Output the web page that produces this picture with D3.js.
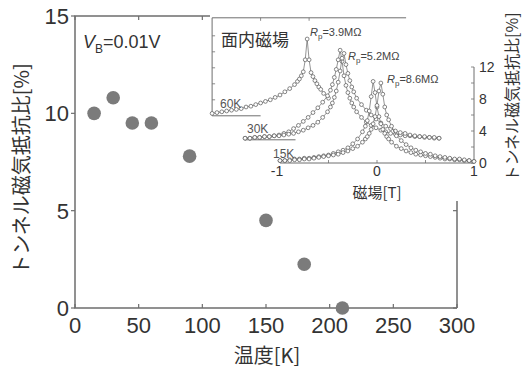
<!DOCTYPE html>
<html>
<head>
<meta charset="utf-8">
<script src="https://cdn.jsdelivr.net/npm/d3@7"></script>
<style>
  body { margin: 0; background: #fff; }
  svg { display: block; }
  text { fill: #333; }
</style>
</head>
<body>
<div id="chart"></div>
<script>
// main plot: TMR ratio vs temperature
const temps = [15, 30, 45, 60, 90, 150, 180, 210];
const tmr = [10.0, 10.8, 9.5, 9.5, 7.8, 4.5, 2.25, 0.0];
const xTicks = [0, 50, 100, 150, 200, 250, 300];
const yTicks = [0, 5, 10, 15];

// inset: TMR vs in-plane field, two sweep branches per temperature
const field = [-1, -0.95, -0.9, -0.85, -0.8, -0.75, -0.7, -0.65, -0.6, -0.55, -0.5, -0.45, -0.4, -0.35, -0.3, -0.25, -0.2, -0.15,
  -0.12, -0.1, -0.08, -0.06, -0.04, -0.02, 0, 0.02, 0.04, 0.06, 0.08, 0.1, 0.12,
  0.15, 0.2, 0.25, 0.3, 0.35, 0.4, 0.45, 0.5, 0.55, 0.6, 0.65, 0.7, 0.75, 0.8, 0.85, 0.9, 0.95, 1];

const mr15Kdown = [0.3, 0.3, 0.4, 0.5, 0.5, 0.6, 0.6, 0.7, 0.8, 0.9, 1.0, 1.2, 1.4, 1.6, 1.9, 2.4, 3.0, 3.9,
  4.6, 5.3, 6.5, 8.3, 10.2, 8.8, 7.0, 5.8, 4.9, 4.2, 3.7, 3.3, 3.0,
  2.6, 2.1, 1.8, 1.5, 1.3, 1.1, 1.0, 0.9, 0.8, 0.7, 0.6, 0.5, 0.5, 0.4, 0.4, 0.3, 0.3, 0.2];
const mr15Kup = [0.3, 0.3, 0.3, 0.4, 0.4, 0.5, 0.5, 0.6, 0.7, 0.8, 0.9, 1.0, 1.1, 1.3, 1.5, 1.8, 2.1, 2.6,
  3.0, 3.3, 3.7, 4.2, 4.9, 5.8, 7.2, 9.0, 10.0, 8.6, 7.0, 6.0, 5.4,
  4.6, 3.4, 2.8, 2.3, 1.9, 1.6, 1.4, 1.2, 1.1, 0.9, 0.8, 0.7, 0.6, 0.5, 0.5, 0.4, 0.3, 0.2];

const mr30Kdown = [0.2, 0.2, 0.3, 0.3, 0.4, 0.4, 0.5, 0.6, 0.8, 1.0, 1.4, 1.8, 2.3, 2.8, 3.4, 4.0, 4.7, 5.5,
  6.2, 6.9, 7.8, 8.8, 10.0, 11.2, 9.8, 8.0, 6.8, 5.9, 5.2, 4.6, 4.1,
  3.5, 2.8, 2.2, 1.8, 1.5, 1.2, 1.0, 0.8, 0.7, 0.6, 0.5, 0.5, 0.4, 0.4, 0.3, 0.3, 0.2, 0.2];
const mr30Kup = [0.2, 0.2, 0.3, 0.3, 0.4, 0.4, 0.5, 0.5, 0.6, 0.7, 0.8, 1.0, 1.2, 1.5, 1.8, 2.2, 2.8, 3.5,
  4.1, 4.6, 5.3, 6.1, 7.2, 8.6, 10.2, 10.8, 9.4, 8.3, 7.4, 6.6, 6.0,
  5.2, 4.4, 3.7, 3.1, 2.6, 2.1, 1.7, 1.4, 1.1, 0.9, 0.8, 0.6, 0.5, 0.4, 0.4, 0.3, 0.3, 0.2];

// 60K only drawn up to +0.2 T
const mr60K = [0.3, 0.4, 0.5, 0.6, 0.7, 0.8, 0.9, 1.1, 1.2, 1.4, 1.6, 1.8, 2.0, 2.3, 2.6, 3.0, 3.4, 3.9,
  4.3, 4.6, 5.0, 5.5, 7.0, 9.6, 7.0, 5.4, 4.9, 4.4, 4.0, 3.6, 3.3,
  2.8, 2.2];

const curves = [
  { label: "60K", rp: "=3.9MΩ", branches: [mr60K], dx: -0.7, dy: 5.9 },
  { label: "30K", rp: "=5.2MΩ", branches: [mr30Kdown, mr30Kup], dx: -0.36, dy: 2.9 },
  { label: "15K", rp: "=8.6MΩ", branches: [mr15Kdown, mr15Kup], dx: 0, dy: 0 }
];

const W = 531, H = 370;
const jp = "'Noto Sans CJK JP', sans-serif";
const num = "'Liberation Sans', Arial, sans-serif";
const axisColor = "#6e6e6e";

const svg = d3.select("#chart").append("svg").attr("width", W).attr("height", H);

// ---- main plot
const x = d3.scaleLinear().domain([0, 300]).range([75, 457]);
const y = d3.scaleLinear().domain([0, 15]).range([308, 16]);

const main = svg.append("g");
// frame
main.append("path")
  .attr("d", `M${x(300)},${y(0)}H${x(0)}V${y(15)}H${x(300)}V${y(0)}`)
  .attr("fill", "none").attr("stroke", axisColor).attr("stroke-width", 1.5);

xTicks.forEach(t => {
  main.append("line").attr("x1", x(t)).attr("x2", x(t)).attr("y1", y(0)).attr("y2", y(0) - 4)
    .attr("stroke", axisColor).attr("stroke-width", 1.2);
  main.append("line").attr("x1", x(t)).attr("x2", x(t)).attr("y1", y(15)).attr("y2", y(15) + 4)
    .attr("stroke", axisColor).attr("stroke-width", 1.2);
  main.append("text").attr("x", x(t)).attr("y", 333).attr("text-anchor", "middle")
    .style("font-family", num).style("font-size", "22px").text(t);
});
yTicks.forEach(t => {
  main.append("line").attr("x1", x(0) - 4).attr("x2", x(0)).attr("y1", y(t)).attr("y2", y(t))
    .attr("stroke", axisColor).attr("stroke-width", 1.2);
  main.append("line").attr("x1", x(300) - 4).attr("x2", x(300)).attr("y1", y(t)).attr("y2", y(t))
    .attr("stroke", axisColor).attr("stroke-width", 1.2);
  main.append("text").attr("x", 69).attr("y", y(t) + 8).attr("text-anchor", "end")
    .style("font-family", num).style("font-size", "22px").text(t);
});

main.selectAll("circle.pt").data(temps).join("circle")
  .attr("class", "pt")
  .attr("cx", d => x(d))
  .attr("cy", (d, i) => y(tmr[i]))
  .attr("r", 6.8)
  .attr("fill", "#7b7b7b");

main.append("text").attr("x", 267).attr("y", 363).attr("text-anchor", "middle")
  .style("font-family", jp).style("font-size", "20px").text("温度[K]");
main.append("text").attr("transform", "translate(29,169) rotate(-90)").attr("text-anchor", "middle")
  .style("font-family", jp).style("font-size", "20px").text("トンネル磁気抵抗比[%]");

const vb = main.append("text").attr("x", 83).attr("y", 48)
  .style("font-family", num).style("font-size", "18px");
vb.append("tspan").style("font-style", "italic").text("V");
vb.append("tspan").attr("dy", 5).style("font-size", "12px").text("B");
vb.append("tspan").attr("dy", -5).text("=0.01V");

// ---- inset
const inset = svg.append("g");
inset.append("rect").attr("x", 210).attr("y", 0).attr("width", W - 210).attr("height", 201).attr("fill", "#fff");

const xi = d3.scaleLinear().domain([-1, 1]).range([280, 474]);
const yi = d3.scaleLinear().domain([0, 12]).range([163, 67]);

// 60K frame (offset)
const c60 = curves[0];
inset.append("path")
  .attr("d", `M${xi(-0.5 + c60.dx)},${yi(c60.dy)}H${xi(-1 + c60.dx)}V${yi(12.25 + c60.dy)}H${xi(1 + c60.dx)}`)
  .attr("fill", "none").attr("stroke", axisColor).attr("stroke-width", 1);
[2, 4, 6, 8, 10].forEach(t => {
  inset.append("line").attr("x1", xi(-1 + c60.dx)).attr("x2", xi(-1 + c60.dx) + 3)
    .attr("y1", yi(t + c60.dy)).attr("y2", yi(t + c60.dy)).attr("stroke", axisColor).attr("stroke-width", 0.8);
});
[-0.5, 0].forEach(t => {
  inset.append("line").attr("x1", xi(t + c60.dx)).attr("x2", xi(t + c60.dx))
    .attr("y1", yi(12.25 + c60.dy)).attr("y2", yi(12.25 + c60.dy) + 3).attr("stroke", axisColor).attr("stroke-width", 0.8);
});
// 30K baseline (offset)
const c30 = curves[1];
inset.append("line").attr("x1", xi(-1 + c30.dx)).attr("x2", xi(-0.48 + c30.dx))
  .attr("y1", yi(c30.dy)).attr("y2", yi(c30.dy)).attr("stroke", axisColor).attr("stroke-width", 1);

// 15K axes
inset.append("path")
  .attr("d", `M${xi(-1)},${yi(0)}H${xi(1)}V${yi(12)}`)
  .attr("fill", "none").attr("stroke", axisColor).attr("stroke-width", 1);
[-1, -0.5, 0, 0.5, 1].forEach(t => {
  inset.append("line").attr("x1", xi(t)).attr("x2", xi(t)).attr("y1", yi(0)).attr("y2", yi(0) - 3)
    .attr("stroke", axisColor).attr("stroke-width", 0.8);
});
[-1, 0, 1].forEach(t => {
  inset.append("text").attr("x", xi(t) - (t < 0 ? 3 : 0)).attr("y", 176).attr("text-anchor", "middle")
    .style("font-family", num).style("font-size", "14px").text(t);
});
[0, 2, 4, 6, 8, 10, 12].forEach(t => {
  inset.append("line").attr("x1", xi(1) - 3).attr("x2", xi(1)).attr("y1", yi(t)).attr("y2", yi(t))
    .attr("stroke", axisColor).attr("stroke-width", 0.8);
  if (t % 4 === 0) {
    inset.append("text").attr("x", 479).attr("y", yi(t) + 5)
      .style("font-family", num).style("font-size", "14px").text(t);
  }
});
inset.append("text").attr("x", 377).attr("y", 198).attr("text-anchor", "middle")
  .style("font-family", jp).style("font-size", "15px").text("磁場[T]");
inset.append("text").attr("transform", "translate(518,97) rotate(-90)").attr("text-anchor", "middle")
  .style("font-family", jp).style("font-size", "16px").text("トンネル磁気抵抗比[%]");
inset.append("text").attr("x", 221).attr("y", 46)
  .style("font-family", jp).style("font-size", "17px").text("面内磁場");

// curves
const rpPos = [[310, 36], [348, 60], [387, 83]];
const tPos = [[220, 108], [247, 133], [273, 158]];
curves.forEach((c, ci) => {
  const g = inset.append("g");
  c.branches.forEach(b => {
    const pts = b.map((v, i) => [xi(field[i] + c.dx), yi(v + c.dy)]);
    g.append("path").attr("d", d3.line()(pts))
      .attr("fill", "none").attr("stroke", "#666").attr("stroke-width", 0.7);
    g.selectAll(null).data(pts).join("circle")
      .attr("cx", d => d[0]).attr("cy", d => d[1]).attr("r", 1.9)
      .attr("fill", "#fff").attr("stroke", "#555").attr("stroke-width", 0.7);
  });
  inset.append("text").attr("x", tPos[ci][0]).attr("y", tPos[ci][1])
    .style("font-family", num).style("font-size", "12px").style("fill", "#555").text(c.label);
  const rp = inset.append("text").attr("x", rpPos[ci][0]).attr("y", rpPos[ci][1])
    .style("font-family", num).style("font-size", "11px").style("fill", "#444");
  rp.append("tspan").style("font-style", "italic").text("R");
  rp.append("tspan").attr("dy", 3).style("font-size", "8px").text("p");
  rp.append("tspan").attr("dy", -3).text(c.rp);
});
</script>
</body>
</html>
